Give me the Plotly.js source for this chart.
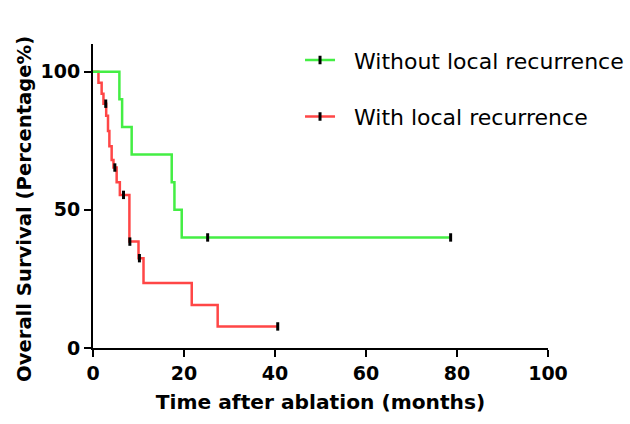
<!DOCTYPE html>
<html>
<head>
<meta charset="utf-8">
<script src="https://cdn.plot.ly/plotly-3.0.1.min.js"></script>
<style>html,body{margin:0;padding:0;background:#fff;}#chart{width:630px;height:424px;}</style>
</head>
<body>
<div id="chart"></div>
<script>
// Without local recurrence
var withoutTimes = [0, 5.8, 6.4, 8.5, 17.3, 17.9, 19.5, 78.6];
var withoutSurv  = [100, 90, 80, 70, 60, 50, 40, 40];
var withoutCensorTimes = [25.2, 78.6];
var withoutCensorSurv  = [40, 40];

// With local recurrence
var withTimes = [0, 1.2, 1.9, 2.3, 2.9, 3.3, 3.6, 4.1, 4.5, 5.2, 5.9, 8.0, 10.0, 11.1, 21.7, 27.4, 40.6];
var withSurv  = [100, 96, 92, 88.4, 84, 78.5, 73, 68, 65.3, 60, 55.4, 38.5, 32.5, 23.5, 15.6, 7.8, 7.8];
var withCensorTimes = [2.8, 4.8, 6.7, 8.1, 10.2, 40.6];
var withCensorSurv  = [88.4, 65.3, 55.4, 38.5, 32.5, 7.8];

var seriesNames = ['Without local recurrence', 'With local recurrence'];
var xTicks = [0, 20, 40, 60, 80, 100];
var yTicks = [0, 50, 100];

var green = '#44ee44';
var red = '#ff4646';
var censorMarker = {symbol: 'line-ns', size: 6, color: '#000', line: {color: '#000', width: 3}};

var traces = [
  {x: withTimes, y: withSurv, mode: 'lines', line: {shape: 'hv', color: red, width: 2.5}, showlegend: false},
  {x: withCensorTimes, y: withCensorSurv, mode: 'markers', marker: censorMarker, showlegend: false, cliponaxis: false},
  {x: withoutTimes, y: withoutSurv, mode: 'lines', line: {shape: 'hv', color: green, width: 2.5}, showlegend: false},
  {x: withoutCensorTimes, y: withoutCensorSurv, mode: 'markers', marker: censorMarker, showlegend: false, cliponaxis: false},
  {x: [null], y: [null], mode: 'lines+markers', name: '\u00a0\u00a0' + seriesNames[0], legendgroup: 'a', line: {color: green, width: 2.5}, marker: censorMarker},
  {x: [null], y: [null], mode: 'lines+markers', name: '\u00a0\u00a0' + seriesNames[1], legendgroup: 'b', line: {color: red, width: 2.5}, marker: censorMarker}
];

var fontFam = '"DejaVu Sans", sans-serif';
var layout = {
  width: 630, height: 424,
  margin: {l: 93, r: 82, t: 44, b: 76, autoexpand: false},
  paper_bgcolor: '#fff', plot_bgcolor: '#fff',
  font: {family: fontFam, color: '#000'},
  showlegend: true,
  legend: {x: 0.455, xanchor: 'left', y: 1.016, yanchor: 'top', traceorder: 'grouped', tracegroupgap: 25,
           font: {family: fontFam, size: 22, color: '#000'}, bgcolor: 'rgba(0,0,0,0)'},
  xaxis: {
    range: [0, 100], tickvals: xTicks, ticktext: xTicks.map(String),
    showgrid: false, zeroline: false, showline: true, linecolor: '#000', linewidth: 2,
    ticks: 'outside', ticklen: 7, tickwidth: 2, tickcolor: '#000',
    tickfont: {family: fontFam, size: 19, weight: 'bold'},
    title: {text: '<b>Time after ablation (months)</b>', font: {family: fontFam, size: 20.2}, standoff: 12}
  },
  yaxis: {
    range: [0, 110], tickvals: yTicks, ticktext: yTicks.map(String),
    showgrid: false, zeroline: false, showline: true, linecolor: '#000', linewidth: 2,
    ticks: 'outside', ticklen: 7, tickwidth: 2, tickcolor: '#000',
    tickfont: {family: fontFam, size: 19, weight: 'bold'}
  },
  annotations: [{
    text: '<b>Overall Survival (Percentage%)</b>', textangle: -90,
    xref: 'paper', yref: 'paper', x: (24 - 93) / 455, y: (348 - 209) / 304,
    xanchor: 'center', yanchor: 'middle', showarrow: false,
    font: {family: fontFam, size: 19.6, color: '#000'}
  }]
};

Plotly.newPlot('chart', traces, layout, {displayModeBar: false, staticPlot: true});
</script>
</body>
</html>
